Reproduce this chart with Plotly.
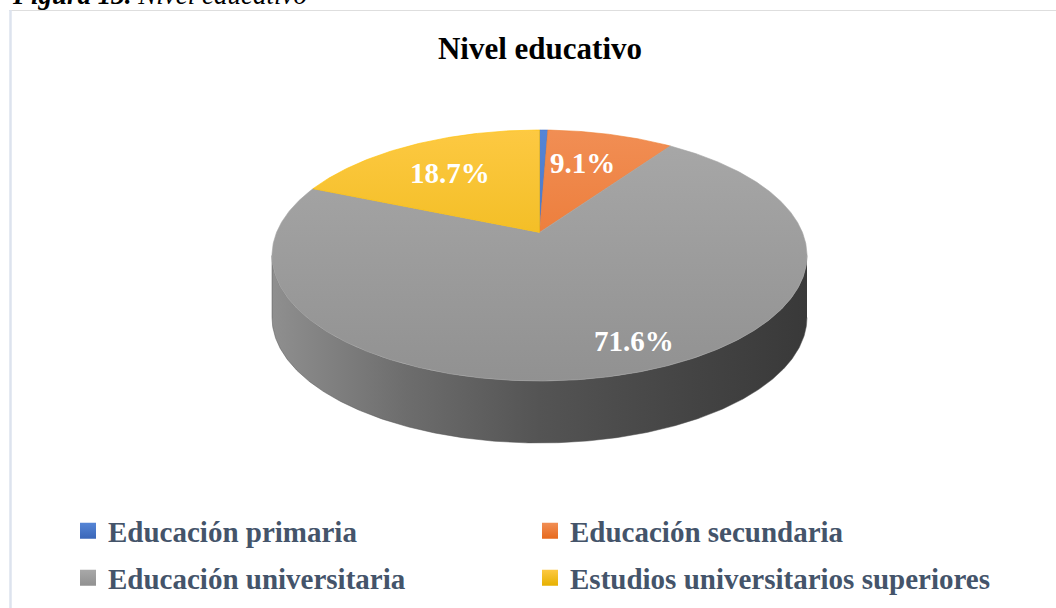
import numpy as np
import plotly.graph_objects as go

# ---------------- data ----------------
CATEGORIES = ["Educación primaria", "Educación secundaria",
              "Educación universitaria", "Estudios universitarios superiores"]
VALUES = [0.6, 9.1, 71.6, 18.7]          # percent
SHOW_LABEL = [False, True, True, True]
TITLE = "Nivel educativo"
CAPTION_BOLD = "Figura 13."
CAPTION_TEXT = " Nivel educativo"

# ---------------- styles ----------------
TOP_COLORS = [("#5585d6", "#3a66b8"),      # (top, bottom) gradient of each slice
              ("#f18e54", "#e7691c"),
              ("#a8a8a8", "#919191"),
              ("#fdc942", "#e6b000")]
BASE_COLORS = ["#4472C4", "#ED7D31", "#A5A5A5", "#FFC000"]
SIDE_SCALE = [[0, "#8f8f8f"], [0.25, "#6d6d6d"], [0.5, "#545454"], [0.8, "#434343"], [1, "#393939"]]
LABEL_POS = [None, (582, 163), (634, 340.5), (450, 172.5)]   # pixel positions of the value labels
SERIF = "Times New Roman, Liberation Serif, serif"
W, H = 1056, 608

# pie geometry (pixels)
PX0, PX1, PY0, PY1 = 272, 807, 130, 381
DEPTH = 62
K = 0.184  # perspective strength

SXM = 1 / np.sqrt(1 - K * K)
SYMIN, SYMAX = -1 / (1 + K), 1 / (1 - K)


def proj(phi_deg, r=1.0):
    phi = np.radians(phi_deg)
    X = r * np.sin(phi)
    Z = r * np.cos(phi)
    d = 1 + K * Z
    sx, sy = X / d, -Z / d
    px = PX0 + (sx + SXM) / (2 * SXM) * (PX1 - PX0)
    py = PY0 + (sy - SYMIN) / (SYMAX - SYMIN) * (PY1 - PY0)
    return px, py


apx, apy = proj(0.0, 0.0)
total = sum(VALUES)
cum = np.concatenate([[0], np.cumsum(VALUES)]) / total * 360.0
PHI_L = np.degrees(np.arccos(-K))          # right silhouette
PHI_R = 360 - PHI_L                        # left silhouette

fig = go.Figure()

# ---- side walls (front, visible part) ----
for i, cat in enumerate(CATEGORIES):
    lo, hi = max(cum[i], PHI_L), min(cum[i + 1], PHI_R)
    if hi <= lo:
        continue
    ph = np.linspace(lo, hi, int((hi - lo) * 2) + 2)
    tx, ty = proj(ph)
    xs = list(tx) + list(tx[::-1])
    ys = list(ty) + list((ty + DEPTH)[::-1])
    fig.add_trace(go.Scatter(
        x=xs, y=ys, mode="lines", fill="toself",
        line=dict(width=0.5, color="#555555"),
        fillgradient=dict(type="horizontal", colorscale=SIDE_SCALE, start=PX0, stop=PX1),
        hoverinfo="skip", showlegend=False))

# ---- top face slices ----
for i, cat in enumerate(CATEGORIES):
    a, b = cum[i], cum[i + 1]
    ph = np.linspace(a, b, max(int((b - a) * 2), 2) + 1)
    tx, ty = proj(ph)
    xs = [apx] + list(tx) + [apx]
    ys = [apy] + list(ty) + [apy]
    top, bot = TOP_COLORS[i]
    fig.add_trace(go.Scatter(
        x=xs, y=ys, mode="lines", fill="toself",
        line=dict(width=0.6, color=BASE_COLORS[i]),
        fillgradient=dict(type="vertical", colorscale=[[0, top], [1, bot]], start=PY0, stop=PY1),
        name=cat, hoverinfo="name", showlegend=False))

# ---- legend entries (two rows) ----
for i, cat in enumerate(CATEGORIES):
    fig.add_trace(go.Scatter(
        x=[None], y=[None], mode="markers", name=cat,
        marker=dict(symbol="square", size=16, color=TOP_COLORS[i][0],
                    gradient=dict(type="vertical", color=TOP_COLORS[i][1])),
        legend="legend" if i < 2 else "legend2", showlegend=True))

# ---- value labels ----
for i, v in enumerate(VALUES):
    if not SHOW_LABEL[i]:
        continue
    lx, ly = LABEL_POS[i]
    fig.add_annotation(x=lx, y=ly, xref="x", yref="y", text=f"<b>{v:.1f}%</b>",
                       showarrow=False, xanchor="center", yanchor="middle",
                       font=dict(family=SERIF, size=29, color="white"))

# ---- caption (partly cut at the top, as in the source) ----
fig.add_annotation(x=10 / W, y=1 + 5.4 / H, xref="paper", yref="paper",
                   text=f"<b><i>{CAPTION_BOLD}</i></b><i>{CAPTION_TEXT}</i>",
                   showarrow=False, xanchor="left", yanchor="middle",
                   font=dict(family=SERIF, size=27, color="black"))

# ---- chart border ----
fig.add_shape(type="line", xref="paper", yref="paper", x0=9 / W, x1=1.01,
              y0=1 - 10.5 / H, y1=1 - 10.5 / H, line=dict(color="#dedede", width=1.2))
fig.add_shape(type="line", xref="paper", yref="paper", x0=10.5 / W, x1=10.5 / W,
              y0=1 - 10 / H, y1=-0.02, line=dict(color="#dde3ee", width=2.5))

legend_common = dict(orientation="h", xanchor="left", yanchor="middle",
                     entrywidthmode="pixels", entrywidth=417,
                     bgcolor="rgba(0,0,0,0)", borderwidth=0,
                     font=dict(family=SERIF, size=29, color="#44546A", weight="bold"),
                     itemclick=False, itemdoubleclick=False)

fig.update_layout(
    width=W, height=H,
    margin=dict(l=0, r=0, t=0, b=0),
    paper_bgcolor="white", plot_bgcolor="white",
    title=dict(text=f"<b>{TITLE}</b>", x=540 / W, xanchor="center",
               y=1 - 48.5 / H, yanchor="middle",
               font=dict(family=SERIF, size=31, color="black")),
    xaxis=dict(range=[0, W], visible=False, fixedrange=True),
    yaxis=dict(range=[H, 0], visible=False, fixedrange=True),
    legend=dict(x=68 / W, y=1 - 531 / H, **legend_common),
    legend2=dict(x=68 / W, y=1 - 578 / H, **legend_common),
    showlegend=True,
)

fig.write_html("out.html", config={"displayModeBar": False},
               post_script="document.body.style.margin='0';")
